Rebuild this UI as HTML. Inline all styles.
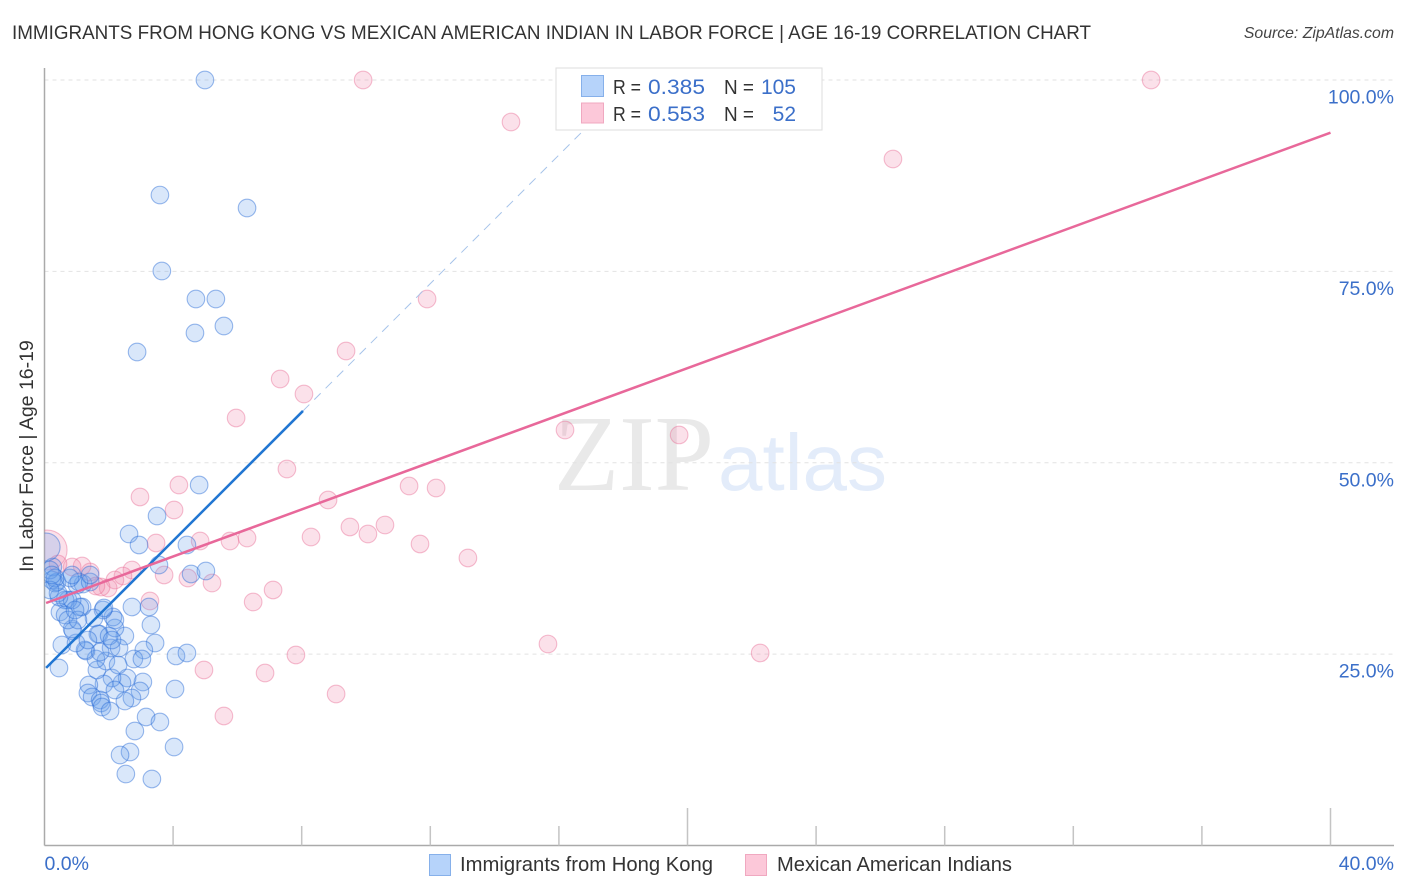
<!DOCTYPE html>
<html lang="en">
<head>
<meta charset="utf-8">
<title>Immigrants from Hong Kong vs Mexican American Indian in Labor Force | Age 16-19 Correlation Chart</title>
<style>
html,body{margin:0;padding:0;background:#fff;width:1406px;height:892px;overflow:hidden}
svg{display:block;font-family:"Liberation Sans",sans-serif}
</style>
</head>
<body>
<svg id="chart" xmlns="http://www.w3.org/2000/svg" width="1406" height="892" viewBox="0 0 1406 892">
  <defs>
    <clipPath id="plot-clip"><rect x="44.5" y="60" width="1350" height="785.5"/></clipPath>
  </defs>
  <rect x="0" y="0" width="1406" height="892" fill="#ffffff"/>
  <text x="12" y="39" font-size="19.5" fill="#333333" textLength="1079" lengthAdjust="spacingAndGlyphs">IMMIGRANTS FROM HONG KONG VS MEXICAN AMERICAN INDIAN IN LABOR FORCE | AGE 16-19 CORRELATION CHART</text>
  <text x="1394" y="38" font-size="15.8" font-style="italic" fill="#444444" text-anchor="end">Source: ZipAtlas.com</text>

  <g>
    <text x="554" y="490" font-family="'Liberation Serif',serif" font-size="108" fill="#e9e9e9" textLength="160" lengthAdjust="spacingAndGlyphs">ZIP</text>
    <text x="718" y="490" font-size="80" fill="#e3ecfa" textLength="169" lengthAdjust="spacingAndGlyphs">atlas</text>
  </g>

  <g id="grid"></g>
  <g id="axes"></g>
  <g id="series-pink" clip-path="url(#plot-clip)"></g>
  <g id="series-blue" clip-path="url(#plot-clip)"></g>
  <g id="trends"></g>
  <g id="tick-labels"></g>

  <text transform="translate(33,456) rotate(-90)" font-size="19.5" fill="#333333" text-anchor="middle">In Labor Force | Age 16-19</text>

  <g>
    <rect x="556" y="68" width="266" height="62" fill="#ffffff" stroke="#dddddd" stroke-width="1"/>
    <rect x="581.5" y="75.5" width="22" height="21" fill="#b6d3fa" stroke="#86b0ea" stroke-width="1"/>
    <rect x="581.5" y="103" width="22" height="20" fill="#fcc8d9" stroke="#f0a8c0" stroke-width="1"/>
    <text x="613" y="94" font-size="20" fill="#333333" textLength="28" lengthAdjust="spacingAndGlyphs">R =</text>
    <text x="648" y="94" font-size="21" fill="#3b6fc9" textLength="57" lengthAdjust="spacingAndGlyphs">0.385</text>
    <text x="724" y="94" font-size="20" fill="#333333" textLength="30" lengthAdjust="spacingAndGlyphs">N =</text>
    <text x="796" y="94" font-size="21" fill="#3b6fc9" text-anchor="end">105</text>
    <text x="613" y="121" font-size="20" fill="#333333" textLength="28" lengthAdjust="spacingAndGlyphs">R =</text>
    <text x="648" y="121" font-size="21" fill="#3b6fc9" textLength="57" lengthAdjust="spacingAndGlyphs">0.553</text>
    <text x="724" y="121" font-size="20" fill="#333333" textLength="30" lengthAdjust="spacingAndGlyphs">N =</text>
    <text x="796" y="121" font-size="21" fill="#3b6fc9" text-anchor="end">52</text>
  </g>

  <g>
    <rect x="429.5" y="854.5" width="21" height="21" fill="#b6d3fa" stroke="#86b0ea" stroke-width="1"/>
    <text x="460" y="871" font-size="20" fill="#333333" textLength="253" lengthAdjust="spacingAndGlyphs">Immigrants from Hong Kong</text>
    <rect x="745.5" y="854.5" width="21" height="21" fill="#fcc8d9" stroke="#f0a8c0" stroke-width="1"/>
    <text x="777" y="871" font-size="20" fill="#333333" textLength="235" lengthAdjust="spacingAndGlyphs">Mexican American Indians</text>
  </g>
</svg>

<script>
const xTickValues = [0, 4, 8, 12, 16, 20, 24, 28, 32, 36, 40];
const xMajorTicks = [20, 40];
const yGridValues = [25, 50, 75, 100];
const yTickLabels = ["25.0%", "50.0%", "75.0%", "100.0%"];
const xEndLabels = ["0.0%", "40.0%"];

const hongKongX = [4.99,3.59,6.30,3.65,4.71,5.33,4.68,5.58,2.88,4.81,3.50,2.63,2.94,4.43,3.56,4.56,5.02,2.72,3.25,3.31,2.50,3.44,3.09,4.09,4.43,2.78,3.03,0.45,0.54,4.06,3.06,2.97,2.57,2.41,2.10,1.85,2.72,2.50,1.38,1.35,1.48,1.73,1.76,1.79,2.04,3.16,3.59,2.81,4.03,2.66,2.35,2.53,3.34,1.63,1.91,1.60,1.29,1.26,2.07,2.32,1.70,1.66,2.01,2.19,2.13,2.19,1.82,1.54,0.98,0.89,0.86,1.17,1.10,0.73,0.64,0.86,0.48,0.64,0.73,0.45,1.20,1.01,1.07,1.42,0.33,0.39,0.23,0.26,0.17,0.05,0.33,0.79,0.42,1.04,1.73,2.10,1.85,1.42,0.86,0.95,0.17,1.35,2.29,2.19,0.23];
const hongKongY = [100.0,84.97,83.28,75.05,71.39,71.39,66.95,67.86,64.47,47.09,43.04,40.69,39.26,39.26,36.64,35.47,35.86,31.16,31.16,28.80,27.37,26.45,25.54,24.76,25.15,24.36,24.36,23.19,26.19,20.44,21.36,20.18,21.88,21.23,21.88,21.10,19.27,18.87,20.97,19.92,19.40,19.01,18.62,18.09,17.57,16.79,16.13,14.96,12.87,12.21,11.82,9.34,8.69,22.93,24.10,24.36,25.41,25.54,25.80,25.80,27.63,27.63,27.37,28.41,29.85,29.46,30.76,29.72,26.45,28.02,28.28,31.16,31.16,32.07,32.07,32.07,30.50,30.11,29.46,32.46,34.16,34.03,34.42,34.42,34.29,34.42,34.68,36.38,35.99,38.99,34.94,34.94,32.98,29.46,25.28,26.84,31.03,35.34,35.34,30.76,33.38,26.84,23.58,20.31,35.34];
const hongKongLargeIndex = 89;

const mexicanX = [9.91,34.42,14.51,26.39,11.90,9.38,7.33,8.07,5.96,16.19,19.74,7.54,4.18,2.97,8.82,11.34,12.18,4.03,9.50,10.06,10.59,8.29,3.47,4.84,5.77,6.30,11.68,13.17,4.46,3.72,5.21,7.11,6.49,3.28,15.66,22.26,7.82,4.96,6.86,9.07,5.58,2.72,2.44,2.19,1.98,1.76,1.42,1.17,0.86,0.42,1.60,0.08];
const mexicanY = [100.0,100.0,94.51,89.68,71.39,64.60,60.94,58.98,55.85,54.28,53.63,49.18,47.09,45.53,45.13,46.96,46.70,43.83,41.61,40.69,41.87,40.30,39.52,39.78,39.78,40.17,39.39,37.56,34.94,35.34,34.29,33.38,31.81,31.94,26.32,25.15,24.89,22.93,22.53,19.79,16.92,35.99,35.21,34.68,33.64,33.77,35.73,36.51,36.38,36.77,33.90,38.6];
const mexicanLargeIndex = 51;

const hongKongIntercept = 23.0;
const hongKongSlope = 4.2;
const hongKongSolidEnd = 8.04;
const hongKongDashEnd = 18.4;
const mexicanIntercept = 31.6;
const mexicanSlope = 1.538;
const trendStart = 0.05;
const trendEnd = 40;

const NS = "http://www.w3.org/2000/svg";
function xScale(v) { return 44.5 + v * 32.15; }
function yScale(v) { return 845.5 - v * 7.655; }

function make(tag, parentId, attrs) {
  const el = document.createElementNS(NS, tag);
  for (const k in attrs) el.setAttribute(k, attrs[k]);
  document.getElementById(parentId).appendChild(el);
  return el;
}

yGridValues.forEach(function (v) {
  const el = make("line", "grid", { x1: 44.5, x2: 1394, y1: yScale(v), y2: yScale(v), stroke: "#e2e2e2", "stroke-width": 1, "stroke-dasharray": "4 4" });
  
  
});

const yAxisLine = make("line", "axes", { x1: 44.5, x2: 44.5, y1: 68, y2: 845.5, stroke: "#aaaaaa", "stroke-width": 1.5 });


const xAxisLine = make("line", "axes", { x1: 44.5, x2: 1394, y1: 845.5, y2: 845.5, stroke: "#aaaaaa", "stroke-width": 1.5 });



xTickValues.slice(1).forEach(function (v) {
  const top = xMajorTicks.indexOf(v) >= 0 ? 808 : 826;
  const el = make("line", "axes", { x1: xScale(v), x2: xScale(v), y1: top, y2: 845.5, stroke: "#c4c4c4", "stroke-width": 1.5 });
  
  
});

yGridValues.forEach(function (v, i) {
  const el = make("text", "tick-labels", { x: 1394, y: yScale(v) + 23.5, "text-anchor": "end", "font-size": 19.5, fill: "#3b6fc9" });
  el.textContent = yTickLabels[i];
  
  
});

const xStartLabel = make("text", "tick-labels", { x: 44.5, y: 870, "font-size": 19.5, fill: "#3b6fc9" });
xStartLabel.textContent = xEndLabels[0];


const xEndLabel = make("text", "tick-labels", { x: 1394, y: 870, "font-size": 19.5, "text-anchor": "end", fill: "#3b6fc9" });
xEndLabel.textContent = xEndLabels[1];



mexicanX.forEach(function (v, i) {
  const el = make("circle", "series-pink", { cx: xScale(v), cy: yScale(mexicanY[i]), r: i === mexicanLargeIndex ? 20 : 8.8, fill: "rgba(238,138,172,0.26)", stroke: "rgba(232,110,150,0.45)", "stroke-width": 1.1 });
  
  
});

hongKongX.forEach(function (v, i) {
  const el = make("circle", "series-blue", { cx: xScale(v), cy: yScale(hongKongY[i]), r: i === hongKongLargeIndex ? 14 : 8.8, fill: "rgba(108,162,235,0.26)", stroke: "rgba(45,110,215,0.48)", "stroke-width": 1.1 });
  
  
});

const blueDash = make("line", "trends", { x1: xScale(hongKongSolidEnd), y1: yScale(hongKongIntercept + hongKongSlope * hongKongSolidEnd), x2: xScale(hongKongDashEnd), y2: yScale(hongKongIntercept + hongKongSlope * hongKongDashEnd), stroke: "#a6c3ea", "stroke-width": 1, "stroke-dasharray": "9 7" });


const blueLine = make("line", "trends", { x1: xScale(trendStart), y1: yScale(hongKongIntercept + hongKongSlope * trendStart), x2: xScale(hongKongSolidEnd), y2: yScale(hongKongIntercept + hongKongSlope * hongKongSolidEnd), stroke: "#2176d2", "stroke-width": 2.5 });


const pinkLine = make("line", "trends", { x1: xScale(trendStart), y1: yScale(mexicanIntercept + mexicanSlope * trendStart), x2: xScale(trendEnd), y2: yScale(mexicanIntercept + mexicanSlope * trendEnd), stroke: "#e8689a", "stroke-width": 2.5 });


</script>
</body>
</html>
